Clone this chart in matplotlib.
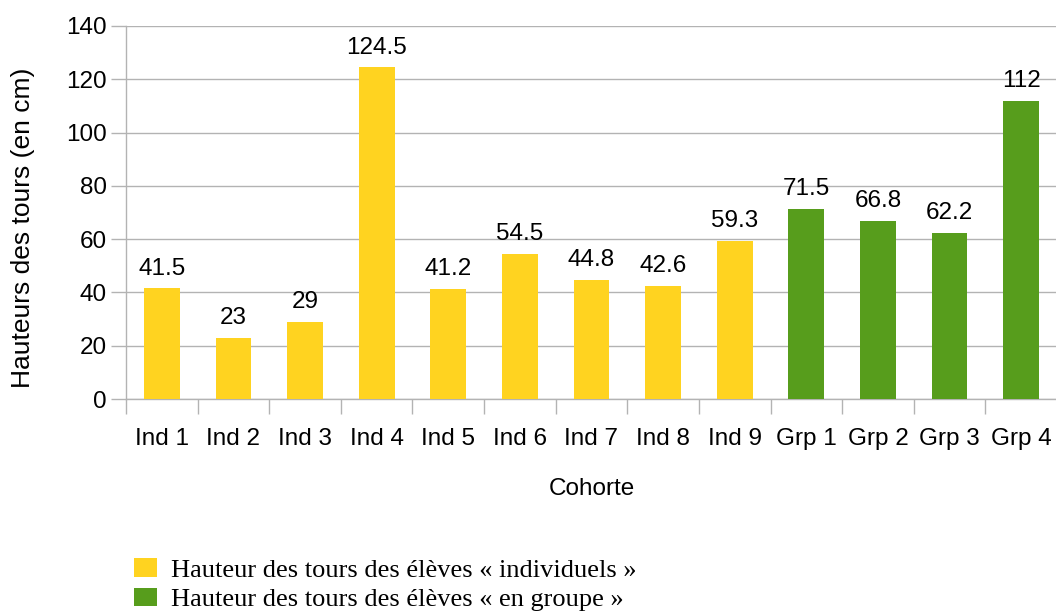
import matplotlib.pyplot as plt
from matplotlib.patches import Patch

categories = ['Ind 1', 'Ind 2', 'Ind 3', 'Ind 4', 'Ind 5', 'Ind 6', 'Ind 7', 'Ind 8', 'Ind 9',
              'Grp 1', 'Grp 2', 'Grp 3', 'Grp 4']
values = [41.5, 23, 29, 124.5, 41.2, 54.5, 44.8, 42.6, 59.3, 71.5, 66.8, 62.2, 112]
labels = ['41.5', '23', '29', '124.5', '41.2', '54.5', '44.8', '42.6', '59.3',
          '71.5', '66.8', '62.2', '112']
groups = ['ind'] * 9 + ['grp'] * 4

YELLOW = '#FFD320'
GREEN = '#579D1C'
GRID = '#B3B3B3'

plt.rcParams['font.family'] = ['Liberation Sans', 'DejaVu Sans']

fig = plt.figure(figsize=(10.56, 6.12), dpi=100)
ax = fig.add_axes([126 / 1056, 1 - 399 / 612, (1057 - 126) / 1056, (399 - 26) / 612])

colors = [YELLOW if g == 'ind' else GREEN for g in groups]
x = list(range(len(categories)))
bars = ax.bar(x, values, width=0.5, color=colors, zorder=3)

for b, lab in zip(bars, labels):
    ax.text(b.get_x() + b.get_width() / 2, b.get_height() + 3.3, lab,
            ha='center', va='bottom', fontsize=17.5)

ax.set_xlim(-0.5, len(categories) - 0.5)
ax.set_ylim(0, 140)
ax.set_yticks(range(0, 141, 20))
ax.yaxis.grid(True, color=GRID, linewidth=1, zorder=0)

ax.set_xticks(x)
ax.set_xticklabels(categories, fontsize=17.5)
ax.set_xticks([i - 0.5 for i in range(len(categories) + 1)], minor=True)
ax.tick_params(axis='x', which='major', length=0, pad=21)
ax.tick_params(axis='x', which='minor', length=11, color=GRID, width=1)
ax.tick_params(axis='y', length=11, color=GRID, width=1, labelsize=17.5, pad=3)

for s in ['top', 'right']:
    ax.spines[s].set_visible(False)
for s in ['left', 'bottom']:
    ax.spines[s].set_color(GRID)
    ax.spines[s].set_linewidth(1)

ax.set_xlabel('Cohorte', fontsize=17.5, labelpad=20)
fig.text(23 / 1056, 1 - 228 / 612, 'Hauteurs des tours (en cm)', rotation=90,
         ha='center', va='center', fontsize=19)

handles = [Patch(facecolor=YELLOW, label='Hauteur des tours des élèves « individuels »'),
           Patch(facecolor=GREEN, label='Hauteur des tours des élèves « en groupe »')]
fig.legend(handles=handles, loc='lower left', bbox_to_anchor=(116 / 1056, -0.029),
           frameon=False, prop={'family': 'Liberation Serif', 'size': 19},
           handlelength=0.85, handleheight=0.72, handletextpad=0.53, labelspacing=0.23,
           borderpad=0.2)

fig.savefig('out.png', dpi=100)
